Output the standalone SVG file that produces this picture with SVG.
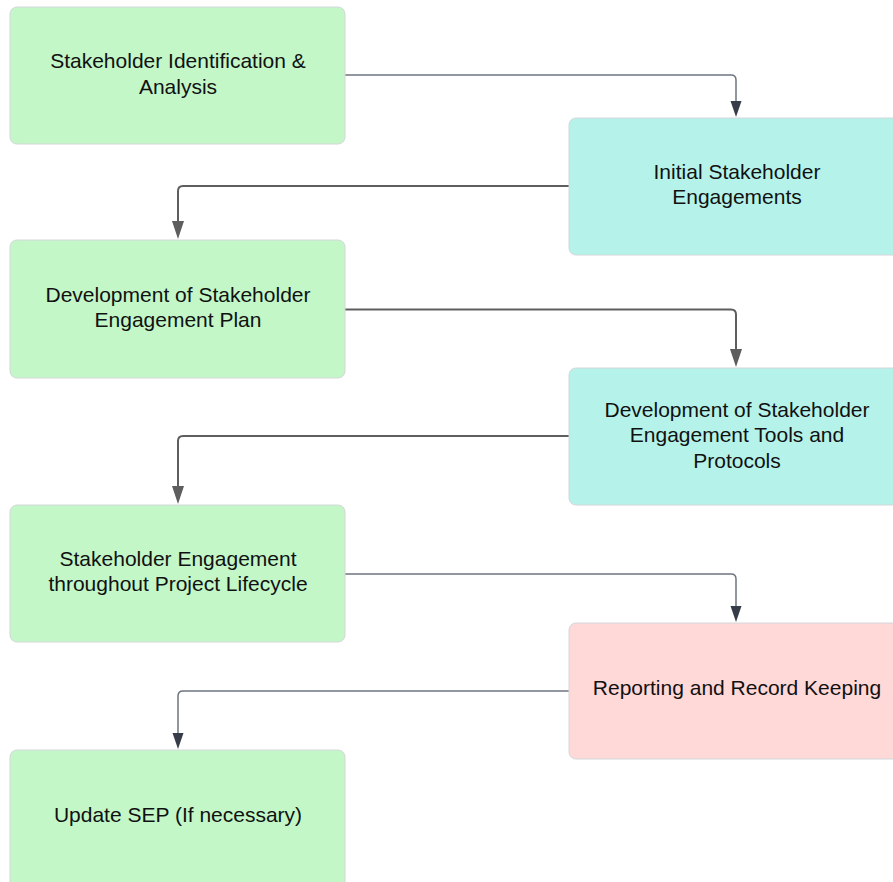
<svg xmlns="http://www.w3.org/2000/svg" width="893" height="882" viewBox="0 0 893 882">
<style>
.n rect{stroke:#d3d6d9;stroke-width:1}
.g{fill:#c3f7c8}.c{fill:#b5f3ea}.p{fill:#ffd8d8}
text{font-family:"Liberation Sans",Arial,sans-serif;font-size:21px;fill:#111;text-anchor:middle}
.d{fill:none;stroke:#6f7580;stroke-width:1.5}
.m{fill:none;stroke:#5e5e5e;stroke-width:2}
</style>
<g id="connectors">
<path class="d" d="M345,75 H731 Q736,75 736,80 V101"/>
<path d="M730.5,101 L741.5,101 L736,117 Z" fill="#373d48"/>
<path class="m" d="M569,186 H183 Q178,186 178,191 V221"/>
<path d="M172,221 L184,221 L178,239 Z" fill="#5e5e5e"/>
<path class="m" d="M345,309.5 H731 Q736,309.5 736,314.5 V349"/>
<path d="M730,349 L742,349 L736,367 Z" fill="#5e5e5e"/>
<path class="m" d="M569,436 H183 Q178,436 178,441 V486"/>
<path d="M172,486 L184,486 L178,504 Z" fill="#5e5e5e"/>
<path class="d" d="M345,574 H731 Q736,574 736,579 V606"/>
<path d="M730.5,606 L741.5,606 L736,622 Z" fill="#373d48"/>
<path class="d" d="M569,691 H183 Q178,691 178,696 V733"/>
<path d="M172.5,733 L183.5,733 L178,749 Z" fill="#373d48"/>
</g>
<g id="n1" class="n"><rect class="g" x="10" y="7" width="335" height="137" rx="7"/><text x="178" y="68">Stakeholder Identification &amp;</text><text x="178" y="93.5">Analysis</text></g>
<g id="n2" class="n"><rect class="c" x="569" y="118" width="340" height="137" rx="7"/><text x="737" y="178.5">Initial Stakeholder</text><text x="737" y="204">Engagements</text></g>
<g id="n3" class="n"><rect class="g" x="10" y="240" width="335" height="138" rx="7"/><text x="178" y="301.5">Development of Stakeholder</text><text x="178" y="327">Engagement Plan</text></g>
<g id="n4" class="n"><rect class="c" x="569" y="368" width="340" height="137" rx="7"/><text x="737" y="416.5">Development of Stakeholder</text><text x="737" y="442">Engagement Tools and</text><text x="737" y="467.5">Protocols</text></g>
<g id="n5" class="n"><rect class="g" x="10" y="505" width="335" height="137" rx="7"/><text x="178" y="565.5">Stakeholder Engagement</text><text x="178" y="591">throughout Project Lifecycle</text></g>
<g id="n6" class="n"><rect class="p" x="569" y="623" width="340" height="136" rx="7"/><text x="737" y="694.5">Reporting and Record Keeping</text></g>
<g id="n7" class="n"><rect class="g" x="10" y="750" width="335" height="140" rx="7"/><text x="178" y="821.5">Update SEP (If necessary)</text></g>
</svg>
